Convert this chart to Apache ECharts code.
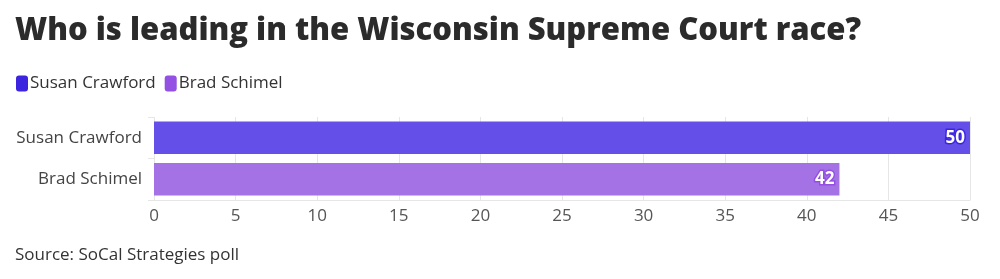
<!DOCTYPE html>
<html><head><meta charset="utf-8">
<script src="https://cdn.jsdelivr.net/npm/echarts@6/dist/echarts.min.js"></script>
<style>html,body{margin:0;padding:0;background:#fff}#c{width:1000px;height:279px}</style>
</head><body><div id="c"></div>
<script>
const categories = ["Susan Crawford", "Brad Schimel"];
const values = [50, 42];
const seriesColors = ["#6450e8", "#a572e6"];
const legendColors = ["#3d25e0", "#9450e2"];
const xTicks = [0, 5, 10, 15, 20, 25, 30, 35, 40, 45, 50];

const chart = echarts.init(document.getElementById('c'));
const font = "Open Sans, Lato, sans-serif";
chart.setOption({
  animation: false,
  title: {
    text: "Who is leading in the Wisconsin Supreme Court race?",
    left: 10, top: 11,
    textStyle: { fontFamily: font, fontSize: 31, fontWeight: 800, color: "#2b2b2b" }
  },
  legend: {
    left: 11, top: 70, icon: "roundRect", itemWidth: 12, itemHeight: 16, itemGap: 9,
    textStyle: { fontFamily: font, fontSize: 17, color: "#333", padding: [0,0,0,-3] },
    data: categories.map((c, i) => ({ name: c, itemStyle: { color: legendColors[i] } }))
  },
  grid: { left: 154, right: 30, top: 117, bottom: 79, containLabel: false },
  xAxis: {
    type: "value", min: 0, max: 50, interval: 5,
    axisLine: { show: true, lineStyle: { color: "#e6e6e6" } },
    axisTick: { show: false },
    splitLine: { show: true, lineStyle: { color: "#e6e6e6" } },
    axisLabel: { fontFamily: font, fontSize: 17, color: "#555", margin: 8,
      formatter: v => xTicks.includes(v) ? String(v) : "" }
  },
  yAxis: {
    type: "category", data: categories, inverse: true,
    axisLine: { show: false },
    axisTick: { show: true, length: 6, lineStyle: { color: "#e6e6e6" } },
    axisLabel: { fontFamily: font, fontSize: 17, color: "#444", margin: 12 }
  },
  series: categories.map((c, i) => ({
    name: c, type: "bar", stack: "s", barCategoryGap: "22%",
    data: categories.map((_, j) => j === i ? { value: values[j], itemStyle: { color: seriesColors[i] } } : null),
    label: {
      show: true, position: "insideRight", distance: 5,
      fontFamily: font, fontSize: 17, fontWeight: "bold", color: "#fff",
      textBorderColor: legendColors[i], textBorderWidth: 3
    }
  })),
  graphic: [{
    type: "text", left: 15, top: 247,
    style: { text: "Source: SoCal Strategies poll", font: "17px " + font, fill: "#333" }
  }]
});
</script></body></html>
